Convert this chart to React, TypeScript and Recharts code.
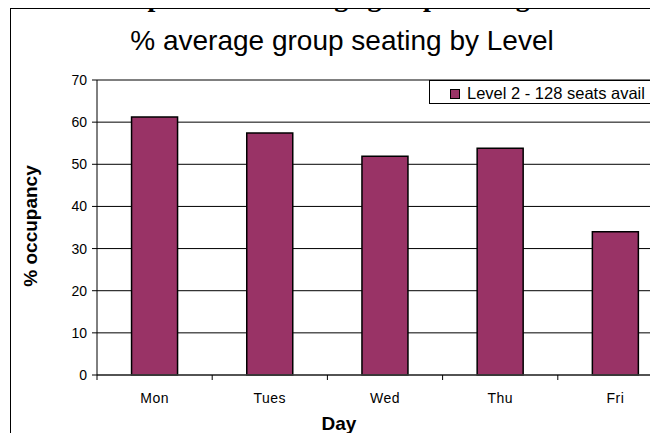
import React from 'react';
import { BarChart, Bar, XAxis, YAxis, CartesianGrid, ReferenceLine } from 'recharts';

const days = ['Mon', 'Tues', 'Wed', 'Thu', 'Fri'];
const level2Occupancy = [61.2, 57.4, 51.9, 53.8, 34.0];
const yTicks = [0, 10, 20, 30, 40, 50, 60, 70];
const seriesName = 'Level 2 - 128 seats avail';

const chartData = days.map((day, i) => ({ day, level2: level2Occupancy[i] }));

const FONT = 'Arial, "Liberation Sans", sans-serif';
const BAR_COLOR = '#993366';

// Excel-style category tick: mark sits on the category boundary, label in the middle
const DayTick = (props: any) => {
  const { x, y, payload } = props;
  const left = x - (payload.offset || 0);
  return (
    <g>
      <line x1={left} y1={y} x2={left} y2={y + 5} stroke="#000" strokeWidth={1} />
      <text
        x={x}
        y={y + 28}
        textAnchor="middle"
        fontFamily={FONT}
        fontSize={14}
        letterSpacing={0.5}
        fill="#000"
      >
        {payload.value}
      </text>
    </g>
  );
};

export default function App() {
  return (
    <div
      style={{
        position: 'relative',
        width: 658,
        height: 441,
        margin: -8,
        overflow: 'hidden',
        background: '#fff',
      }}
    >
      <div
        style={{
          position: 'absolute',
          left: 10,
          top: 8,
          width: 720,
          height: 500,
          border: '1px solid #000',
          boxSizing: 'border-box',
        }}
      />

      <div style={{ position: 'absolute', left: 0, top: 0 }}>
        <BarChart
          width={700}
          height={441}
          data={chartData}
          margin={{ top: 80, right: 27, left: 0, bottom: 0 }}
          barCategoryGap="30%"
        >
          <CartesianGrid vertical={false} stroke="#000" strokeWidth={1} />
          <ReferenceLine y={70} stroke="#808080" strokeWidth={1} />
          <XAxis
            dataKey="day"
            height={66}
            tickLine={false}
            tickSize={0}
            tickMargin={0}
            interval={0}
            axisLine={{ stroke: '#444', strokeWidth: 1.5 }}
            tick={<DayTick />}
          />
          <YAxis
            width={97}
            domain={[0, 70]}
            ticks={yTicks}
            interval={0}
            tickSize={5}
            tickMargin={5}
            axisLine={{ stroke: '#000' }}
            tickLine={{ stroke: '#000' }}
            tick={{ fontFamily: FONT, fontSize: 14, fill: '#000' }}
          />
          <Bar
            dataKey="level2"
            name={seriesName}
            fill={BAR_COLOR}
            stroke="#000"
            strokeWidth={1.5}
            isAnimationActive={false}
          />
        </BarChart>
      </div>

      <svg
        width={658}
        height={441}
        style={{ position: 'absolute', left: 0, top: 0, pointerEvents: 'none' }}
      >
        <text
          x={346}
          y={6}
          textAnchor="middle"
          fontFamily='"Times New Roman", "Liberation Serif", serif'
          fontWeight="bold"
          fontSize={28}
          fill="#000"
        >
          Graph 1: - % average group seating 2004
        </text>
        <text x={342} y={50} textAnchor="middle" fontFamily={FONT} fontSize={28} fill="#000">
          % average group seating by Level
        </text>
        <text
          transform="translate(37, 226) rotate(-90)"
          textAnchor="middle"
          fontFamily={FONT}
          fontWeight="bold"
          fontSize={19}
          fill="#000"
        >
          % occupancy
        </text>
        <text x={339} y={430} textAnchor="middle" fontFamily={FONT} fontWeight="bold" fontSize={19} fill="#000">
          Day
        </text>
      </svg>

      <div
        style={{
          position: 'absolute',
          left: 429,
          top: 80,
          width: 300,
          height: 24,
          border: '1px solid #000',
          background: '#fff',
          boxSizing: 'border-box',
        }}
      >
        <svg width={300} height={22}>
          <rect x={20.5} y={8.5} width={9} height={9} fill={BAR_COLOR} stroke="#000" strokeWidth={1} />
          <text x={37} y={17.5} fontFamily={FONT} fontSize={16.5} fill="#000">
            {seriesName}
          </text>
        </svg>
      </div>
    </div>
  );
}
